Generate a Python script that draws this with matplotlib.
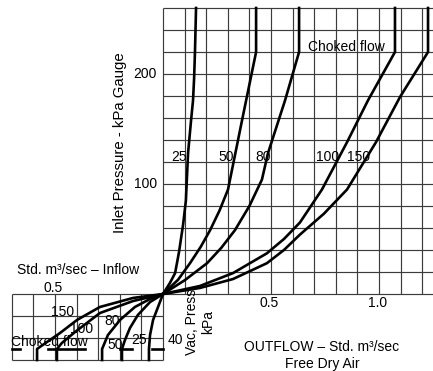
import matplotlib.pyplot as plt
import numpy as np

plt.rcParams['font.family'] = ['Liberation Sans', 'DejaVu Sans']

# outflow curves: flow (std m3/s) vs inlet pressure (kPa gauge)
out_labels = ['25', '50', '80', '100', '150']
out_q = [
    [0, 0.032, 0.056, 0.074, 0.093, 0.106, 0.116, 0.130, 0.139, 0.144, 0.148, 0.153],
    [0, 0.070, 0.125, 0.175, 0.218, 0.262, 0.301, 0.366, 0.431, 0.431],
    [0, 0.102, 0.204, 0.270, 0.333, 0.400, 0.458, 0.486, 0.565, 0.630, 0.630],
    [0, 0.171, 0.324, 0.481, 0.560, 0.634, 0.736, 0.852, 0.949, 1.074, 1.074],
    [0, 0.171, 0.324, 0.481, 0.560, 0.634, 0.745, 0.852, 0.986, 1.097, 1.227, 1.227],
]
out_p = [
    [0, 10, 19, 38, 63, 85, 128, 158, 176, 196, 220, 260],
    [0, 13, 28, 43, 58, 76, 95, 158, 220, 260],
    [0, 12.7, 28, 42, 58, 80, 104, 128, 176, 220, 260],
    [0, 7.3, 19, 37, 50, 65, 95, 138, 176, 220, 260],
    [0, 5.5, 13.6, 28, 40, 54, 73, 95, 138, 179, 220, 260],
]

# inflow curves: flow (negative = inflow) vs vacuum (negative kPa)
in_labels = ['150', '100', '80', '50', '25']
in_q = [
    [0, -0.139, -0.292, -0.398, -0.477, -0.569, -0.583, -0.583],
    [0, -0.139, -0.292, -0.407, -0.468, -0.491, -0.491],
    [0, -0.060, -0.130, -0.199, -0.255, -0.282, -0.282],
    [0, -0.060, -0.116, -0.153, -0.176, -0.190, -0.190],
    [0, -0.023, -0.046, -0.060, -0.065, -0.065],
]
in_v = [
    [0, -3.6, -11.8, -23.6, -35.5, -48, -50, -60],
    [0, -6.4, -17.3, -34.5, -44.5, -50, -60],
    [0, -4.5, -11.8, -23.6, -37.3, -50, -60],
    [0, -7.3, -19, -30.9, -41.8, -50, -60],
    [0, -11.8, -23.6, -37.3, -50, -60],
]

# choked-flow dashes on the vacuum side
choke_v = -50
choke_segs = [(-0.699, -0.662), (-0.532, -0.361), (-0.199, -0.144), (-0.051, 0.0)]

fig = plt.figure(figsize=(4.33, 3.71), dpi=100)
ax = fig.add_axes([0, 0, 1, 1])
ax.set_xlim(-163 / 216, 270 / 216)
ax.set_ylim(-77 / 1.1, 294 / 1.1)
ax.axis('off')

gc = '#3c3c3c'
glw = 0.85
# upper grid
for x in np.arange(0, 1.25, 0.1):
    ax.vlines(x, 0, 260, color=gc, lw=glw)
for y in np.arange(0, 261, 20):
    ax.hlines(y, 0, 1.26, color=gc, lw=glw)
# lower grid
for x in np.arange(-0.7, 0.01, 0.1):
    ax.vlines(x, -60, 0, color=gc, lw=glw)
for y in np.arange(-60, 1, 20):
    ax.hlines(y, -0.7, 0, color=gc, lw=glw)

for q, p in zip(out_q, out_p):
    ax.plot(q, p, color='black', lw=1.9, solid_joinstyle='round')
for q, v in zip(in_q, in_v):
    ax.plot(q, v, color='black', lw=1.9, solid_joinstyle='round')
for a, b in choke_segs:
    ax.plot([a, b], [choke_v, choke_v], color='black', lw=1.9)

fs = 10
# curve labels
for lab, x in zip(out_labels, [0.074, 0.292, 0.463, 0.764, 0.907]):
    ax.text(x, 124.5, lab, fontsize=fs, ha='center', va='center')
for lab, (x, y) in zip(in_labels, [(-0.463, -16.4), (-0.375, -31.8), (-0.236, -24.5),
                                   (-0.222, -46.4), (-0.111, -41.8)]):
    ax.text(x, y, lab, fontsize=fs, ha='center', va='center')

ax.text(0.847, 224.5, 'Choked flow', fontsize=fs, ha='center', va='center')
ax.text(-0.528, -43.6, 'Choked flow', fontsize=fs, ha='center', va='center')

ax.text(-0.199, 138, 'Inlet Pressure - kPa Gauge', fontsize=10.8, rotation=90,
        ha='center', va='center')
for t in [100, 200]:
    ax.text(-0.028, t, str(t), fontsize=fs, ha='right', va='center')
for t in [0.5, 1.0]:
    ax.text(t - 0.008, -8.2, f'{t:.1f}', fontsize=fs, ha='center', va='center')

ax.text(-0.394, 21.8, 'Std. m³/sec – Inflow', fontsize=fs, ha='center', va='center')
ax.text(-0.509, 5.5, '0.5', fontsize=fs, ha='center', va='center')
ax.text(0.056, -42, '40', fontsize=fs, ha='center', va='center')
ax.text(0.171, -25.5, 'Vac, Press\nkPa', fontsize=fs, rotation=90,
        ha='center', va='center', multialignment='center')
ax.text(0.736, -48.5, 'OUTFLOW – Std. m³/sec', fontsize=fs, ha='center', va='center')
ax.text(0.736, -63.5, 'Free Dry Air', fontsize=fs, ha='center', va='center')

fig.savefig('out.png', dpi=100)
